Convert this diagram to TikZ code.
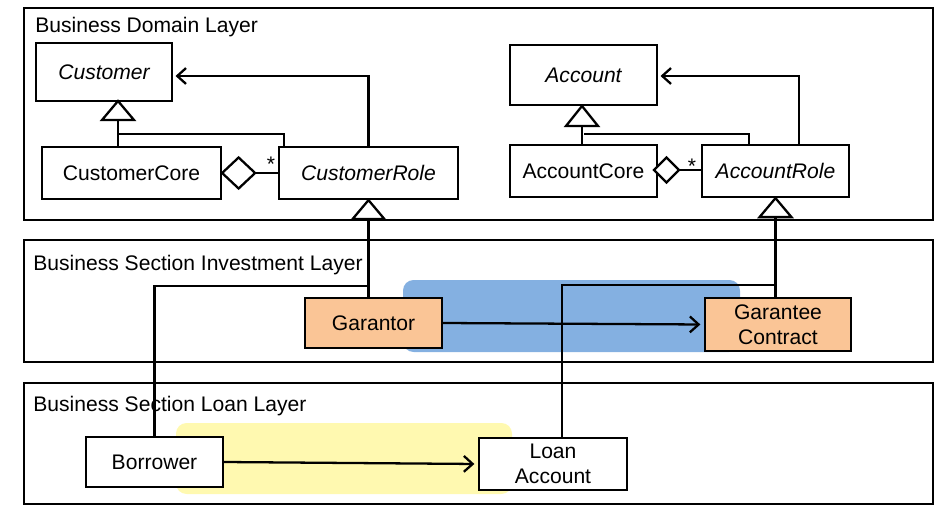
\documentclass[tikz,border=0pt]{standalone}
\usepackage{fontspec}
\setmainfont{Liberation Sans}
\usetikzlibrary{arrows.meta}
\definecolor{hlblue}{RGB}{132,176,225}
\definecolor{hlyellow}{RGB}{255,249,176}
\definecolor{orangebox}{RGB}{250,197,150}
\begin{document}
\begin{tikzpicture}[x=0.02cm,y=-0.02cm,
  every node/.style={font=\fontsize{12}{14.4}\selectfont},
  cls/.style={draw, line width=1.3pt, fill=white, inner sep=0pt, align=center},
  layerbox/.style={draw, line width=1.2pt},
  layerlabel/.style={anchor=base west, inner sep=0pt},
  ln/.style={line width=1.3pt},
  assoc/.style={line width=1.3pt, -{Straight Barb[length=5pt,width=9pt,line width=1.3pt]}, shorten >=2pt},
  gen/.style={draw, line width=1.3pt, fill=white, line join=miter},
  hl/.style={rounded corners=6pt}
]
\useasboundingbox (0,0) rectangle (950,507);

% layers
\draw[layerbox] (24,8) rectangle (933,220);
\draw[layerbox] (24,240) rectangle (933,362);
\draw[layerbox] (24,383) rectangle (933,504);
\node[layerlabel] (l1) at (35,32) {Business Domain Layer};
\node[layerlabel] (l2) at (33,270) {Business Section Investment Layer};
\node[layerlabel] (l3) at (33,411) {Business Section Loan Layer};

% highlights
\fill[hlblue, hl] (403,280) rectangle (740,352);
\fill[hlyellow, hl] (176,423) rectangle (512,494);

% classes
\node[cls, minimum width=2.72cm, minimum height=1.16cm] (cust) at (104,72) {\itshape Customer};
\node[cls, minimum width=3.58cm, minimum height=1.04cm] (ccore) at (131.5,173) {CustomerCore};
\node[cls, minimum width=3.58cm, minimum height=1.04cm] (crole) at (368.5,173) {\itshape CustomerRole};
\node[cls, minimum width=2.94cm, minimum height=1.2cm] (acc) at (583.5,75) {\itshape Account};
\node[cls, minimum width=2.94cm, minimum height=1.04cm] (acore) at (583.5,171) {AccountCore};
\node[cls, minimum width=2.94cm, minimum height=1.04cm] (arole) at (775.5,171) {\itshape AccountRole};
\node[cls, fill=orangebox, minimum width=2.74cm, minimum height=1.0cm] (gar) at (373.5,323) {Garantor};
\node[cls, fill=orangebox, minimum width=2.92cm, minimum height=1.06cm] (gc) at (778,324.5) {Garantee\\Contract};
\node[cls, minimum width=2.74cm, minimum height=1.0cm] (bor) at (154.5,462) {Borrower};
\node[cls, minimum width=2.96cm, minimum height=1.04cm] (loan) at (553,464) {Loan\\Account};

% Customer generalization
\coordinate (custtip) at (118,101);
\coordinate (custbase) at (118,120);
\draw[ln] (custbase) -- (custbase |- ccore.north);
\coordinate (cj) at (118,134);
\coordinate (cj2) at (284,134);
\draw[ln] (cj) -- (cj2) -- (cj2 |- crole.north);
\draw[gen] (custtip) -- ++(16,19) -- ++(-32,0) -- cycle;

% Customer aggregation
\draw[gen] (ccore.east) -- ++(16.5,-15.5) -- ++(16.5,15.5) coordinate (cdr) -- ++(-16.5,15.5) -- cycle;
\draw[ln] (cdr) -- (cdr -| crole.west);
\node[inner sep=0pt] (cstar) at (271,164) {*};

% CustomerRole -> Customer
\coordinate (cah) at (172,76);
\draw[assoc] (crole.north) |- (cah);

% Account generalization
\coordinate (acctip) at (582,106);
\coordinate (accbase) at (582,126);
\draw[ln] (accbase) -- (accbase |- acore.north);
\coordinate (aj) at (584,134);
\coordinate (aj2) at (749,134);
\draw[ln] (aj) -- (aj2) -- (aj2 |- arole.north);
\draw[gen] (acctip) -- ++(16,20) -- ++(-32,0) -- cycle;

% Account aggregation
\coordinate (adl) at (654,170);
\draw[gen] (adl) -- ++(12.5,-12.5) -- ++(12.5,12.5) coordinate (adr) -- ++(-12.5,12.5) -- cycle;
\draw[ln] (adr) -- (adr -| arole.west);
\node[inner sep=0pt] (astar) at (692,166) {*};

% AccountRole -> Account
\coordinate (aup) at (799,145);
\coordinate (aah) at (657,76);
\draw[assoc] (aup) |- (aah);

% role generalizations from lower layers
\coordinate (yinv) at (0,286);
\coordinate (yinv2) at (0,285);
\path (crole.south) ++(0,19) coordinate (crbase);
\path (arole.south) ++(0,19) coordinate (arbase);
\draw[ln] (crbase) -- (crbase |- gar.north);
\draw[ln] (bor.north) |- (crbase |- yinv);
\draw[ln] (arbase) -- (arbase |- gc.north);
\coordinate (lnx) at (562,0);
\draw[ln] (lnx |- loan.north) |- (arbase |- yinv2);
\draw[gen] (crole.south) -- ++(16,19) -- ++(-32,0) -- cycle;
\draw[gen] (arole.south) -- ++(16,19) -- ++(-32,0) -- cycle;

% associations in lower layers
\draw[assoc] (gar.east) -- (gc.west);
\draw[assoc] (bor.east) -- (loan.west);
\end{tikzpicture}
\end{document}
